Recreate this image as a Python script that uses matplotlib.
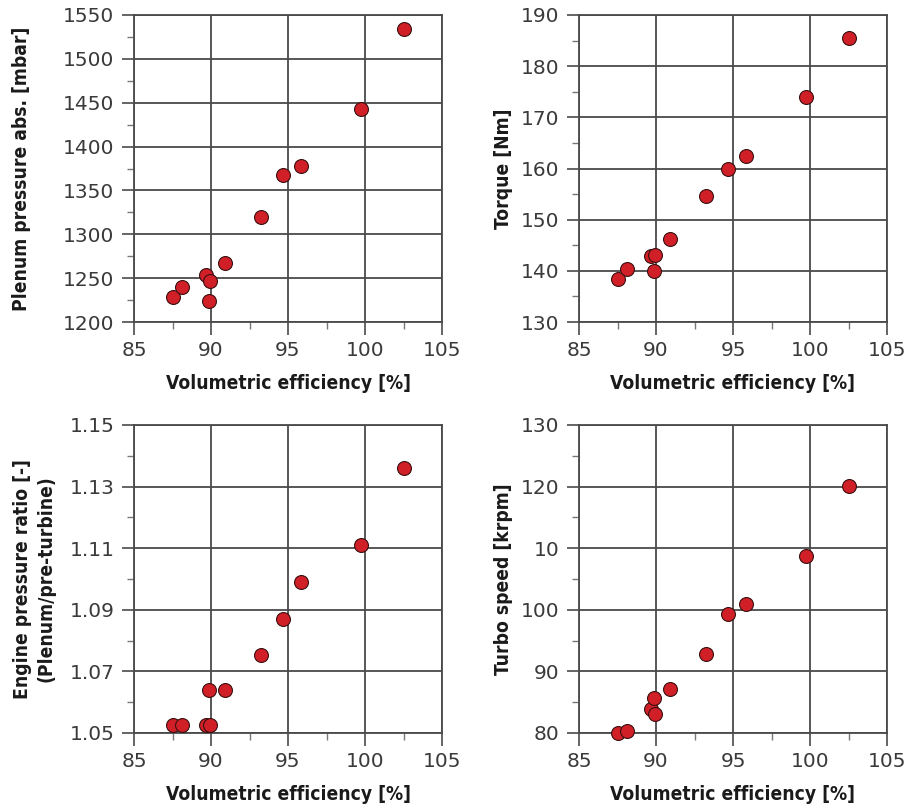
import matplotlib
matplotlib.use("Agg")
import matplotlib.pyplot as plt
from matplotlib.ticker import MultipleLocator, FixedLocator, FixedFormatter

# Volumetric efficiency [%] for each operating point
vol_eff = [87.5, 88.1, 89.7, 89.95, 89.85, 90.9, 93.25, 94.7, 95.85, 99.75, 102.5]

# Measured quantities at each operating point
plenum_pressure = [1229, 1239.5, 1253.5, 1247, 1223.5, 1267, 1320, 1368, 1378, 1443, 1534]
torque = [138.4, 140.3, 142.9, 143.1, 140.0, 146.3, 154.7, 159.9, 162.4, 173.9, 185.5]
pressure_ratio = [1.0525, 1.0525, 1.0525, 1.0525, 1.064, 1.064, 1.0752, 1.0869, 1.099, 1.1111, 1.1362]
turbo_speed = [80.0, 80.4, 83.9, 83.1, 85.7, 87.2, 92.8, 99.3, 101.0, 108.7, 120.1]

x_ticks = [85, 90, 95, 100, 105]
x_label = "Volumetric efficiency [%]"

plenum_ticks = [1200, 1250, 1300, 1350, 1400, 1450, 1500, 1550]
torque_ticks = [130, 140, 150, 160, 170, 180, 190]
ratio_ticks = [1.05, 1.07, 1.09, 1.11, 1.13, 1.15]
ratio_tick_labels = ["1.05", "1.07", "1.09", "1.11", "1.13", "1.15"]
turbo_ticks = [80, 90, 100, 110, 120, 130]
turbo_tick_labels = ["80", "90", "100", "10", "120", "130"]

W, H = 907, 811
fig = plt.figure(figsize=(W / 100, H / 100), dpi=100)
fig.patch.set_facecolor("white")

GRID = "#4a4a4a"
TICKTXT = "#3a3a3a"
RED = "#d11f27"
TITLE = dict(fontsize=13.8, fontweight="bold", color="#1a1a1a",
             family="DejaVu Sans", fontstretch="condensed")


def box(l, t, r, b):
    return [l / W, 1 - b / H, (r - l) / W, (b - t) / H]


panels = [
    (box(134, 15, 442, 322), plenum_pressure, plenum_ticks, None,
     "Plenum pressure abs. [mbar]", 23),
    (box(579, 15, 887, 322), torque, torque_ticks, None,
     "Torque [Nm]", 6),
    (box(134, 425, 442, 733), pressure_ratio, ratio_ticks, ratio_tick_labels,
     "Engine pressure ratio [-]\n(Plenum/pre-turbine)", 10),
    (box(579, 425, 887, 733), turbo_speed, turbo_ticks, turbo_tick_labels,
     "Turbo speed [krpm]", 6),
]

for rect, yvals, yticks, ylabels, ytitle, lpad in panels:
    ax = fig.add_axes(rect)
    ax.set_xlim(85, 105)
    ax.set_ylim(yticks[0], yticks[-1])
    ax.xaxis.set_major_locator(FixedLocator(x_ticks))
    ax.xaxis.set_minor_locator(MultipleLocator(2.5))
    ax.yaxis.set_major_locator(FixedLocator(yticks))
    step = yticks[1] - yticks[0]
    ax.yaxis.set_minor_locator(MultipleLocator(step / 2))
    if ylabels is not None:
        ax.yaxis.set_major_formatter(FixedFormatter(ylabels))

    ax.grid(True, which="major", color=GRID, linewidth=1.3)
    ax.set_axisbelow(True)
    for s in ax.spines.values():
        s.set_color(GRID)
        s.set_linewidth(1.3)

    ax.tick_params(axis="both", which="major", direction="out", length=9,
                   width=1.2, color=GRID, labelsize=14.5, labelcolor=TICKTXT)
    ax.tick_params(axis="y", which="major", pad=5)
    ax.tick_params(axis="x", which="major", pad=5)
    ax.tick_params(axis="both", which="minor", direction="out", length=5,
                   width=1.0, color="#777777")
    for lab in ax.get_xticklabels() + ax.get_yticklabels():
        lab.set_fontfamily("DejaVu Sans")

    ax.plot(vol_eff, yvals, linestyle="none", marker="o", markersize=10,
            markerfacecolor=RED, markeredgecolor="#3a1010",
            markeredgewidth=0.8, zorder=5, clip_on=False)

    ax.set_xlabel(x_label, labelpad=10, **TITLE)
    ax.set_ylabel(ytitle, labelpad=lpad, linespacing=1.3, **TITLE)

fig.savefig("out.png", dpi=100)
